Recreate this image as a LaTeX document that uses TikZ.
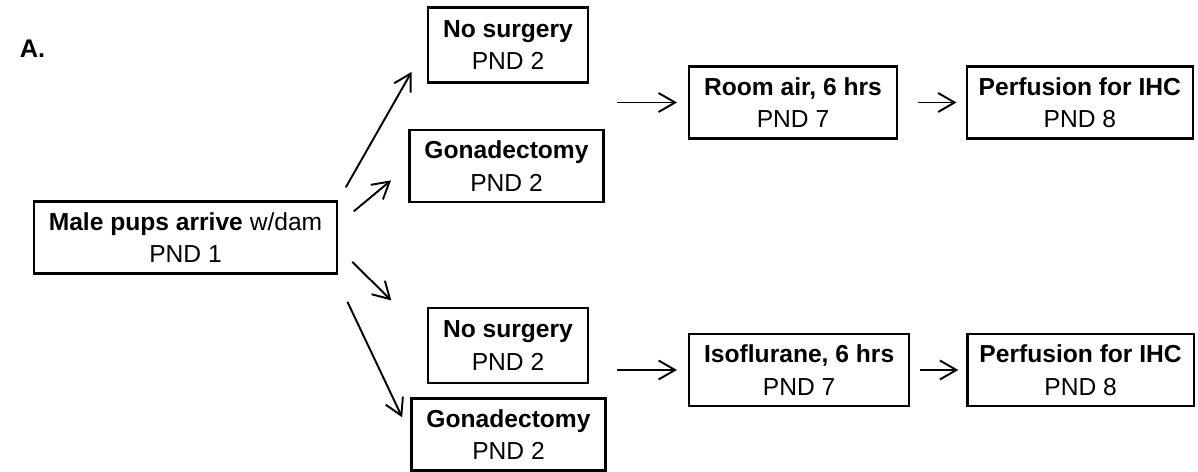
\documentclass[tikz,border=0pt]{standalone}
\usepackage{fontspec}
\setmainfont{Liberation Sans}
\usetikzlibrary{arrows.meta,positioning}

\begin{document}
\begin{tikzpicture}[>={Straight Barb[length=3.3mm,width=3.8mm]},
  box/.style={draw, rectangle, line width=1.3pt, align=center, inner xsep=0.3cm,
    minimum height=1.44cm, font=\fontsize{14}{18.5}\selectfont},
  arr/.style={->, line width=1.1pt}]
  \useasboundingbox (0,0) rectangle (23.96,9.44);

  \node [font=\fontsize{14.5}{17}\selectfont\bfseries] (lbl) at (0.65,8.46) {A.};

  \node [box] (pups) at (3.71,4.69) {\textbf{Male pups arrive} w/dam\\PND 1};
  \node [box, minimum height=1.5cm] (nosurgA) at (10.16,8.54) {\textbf{No surgery}\\PND 2};
  \node [box] (gonA) at (10.13,6.12) {\textbf{Gonadectomy}\\PND 2};
  \node [box, minimum height=1.5cm] (nosurgB) at (10.16,2.53) {\textbf{No surgery}\\PND 2};
  \node [box] (gonB) at (10.17,0.75) {\textbf{Gonadectomy}\\PND 2};

  \node [box, anchor=west] (roomair) at (13.76,7.39) {\textbf{Room air, 6 hrs}\\PND 7};
  \node [box, inner xsep=0.24cm, right=1.35cm of roomair] (perfA) {\textbf{Perfusion for IHC}\\PND 8};
  \node [box, anchor=west] (iso) at (13.76,2.04) {\textbf{Isoflurane, 6 hrs}\\PND 7};
  \node [box, inner xsep=0.24cm, right=1.12cm of iso] (perfB) {\textbf{Perfusion for IHC}\\PND 8};

  \coordinate (inA) at (12.34,7.39);
  \coordinate (inB) at (12.34,2.04);

  \draw [arr, shorten <=0.3cm, shorten >=0.62cm] (pups.north east) -- (nosurgA.west);
  \draw [arr, shorten <=0.4cm, shorten >=0.45cm] (pups.5) -- (gonA.west);
  \draw [arr, shorten <=0.39cm, shorten >=1.0cm] (pups.-4) -- (nosurgB.173);
  \draw [arr, shorten <=0.6cm, shorten >=0.38cm] (pups.-14) -- (gonB.west);

  \draw [arr, shorten >=0.22cm] (inA) -- (roomair);
  \draw [arr, shorten <=0.4cm, shorten >=0.18cm] (roomair) -- (perfA);
  \draw [arr, shorten >=0.22cm] (inB) -- (iso);
  \draw [arr, shorten <=0.2cm, shorten >=0.16cm] (iso) -- (perfB);
\end{tikzpicture}
\end{document}
